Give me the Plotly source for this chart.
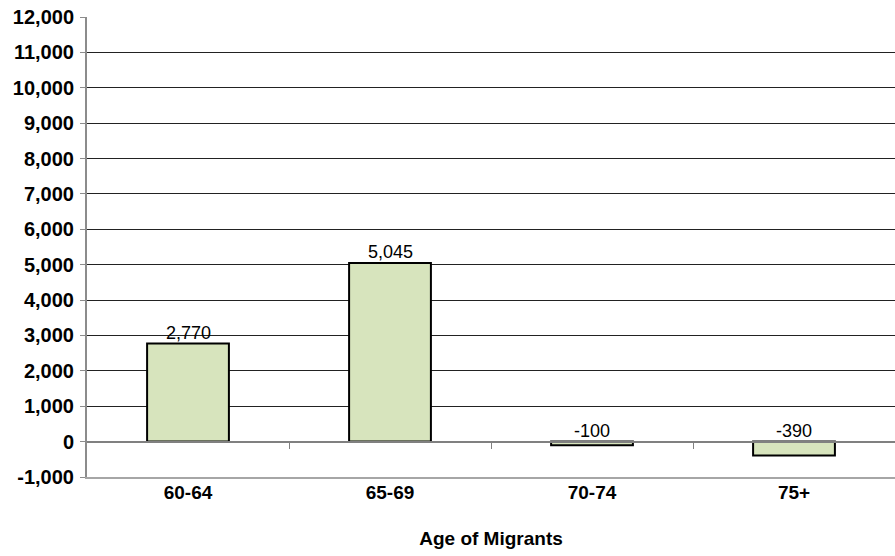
import plotly.graph_objects as go

categories = ["60-64", "65-69", "70-74", "75+"]
values = [2770, 5045, -100, -390]
label_texts = ["2,770", "5,045", "-100", "-390"]
y_ticks = list(range(-1000, 12001, 1000))
y_tick_text = [f"{v:,}" for v in y_ticks]

fig = go.Figure()
fig.add_trace(go.Bar(
    x=categories, y=values,
    marker=dict(color="#d7e4bd", line=dict(color="#000000", width=2)),
    width=0.405,
    hoverinfo="skip",
))

for c, v, t in zip(categories, values, label_texts):
    fig.add_annotation(x=c, y=max(v, 0), text=t, showarrow=False,
                       yanchor="bottom", yshift=-1,
                       font=dict(family="Liberation Sans, Arial", size=18, color="#000"))

y_min, y_max = -1000, 12000
zero_pos = (0 - y_min) / (y_max - y_min)

fig.update_layout(
    width=895, height=556,
    margin=dict(l=87, r=0, t=17, b=79),
    plot_bgcolor="white", paper_bgcolor="white",
    showlegend=False,
    font=dict(family="Liberation Sans, Arial", color="#000"),
    xaxis=dict(
        type="category", showgrid=False, showline=True, linecolor="#a6a6a6", linewidth=2,
        ticks="", tickfont=dict(size=19, weight="bold"),
        ticklabelstandoff=-3,
        title=dict(text="<b>Age of Migrants</b>", font=dict(size=19), standoff=30),
        range=[-0.5, 3.5],
    ),
    xaxis2=dict(
        overlaying="x", anchor="free", position=zero_pos, side="bottom",
        range=[-0.5, 3.5], tickvals=[0.5, 1.5, 2.5], ticks="outside", ticklen=6,
        tickcolor="#808080", showticklabels=False, showline=True, linecolor="#808080",
        linewidth=2, showgrid=False, zeroline=False,
    ),
    yaxis=dict(
        range=[y_min, y_max], tickvals=y_ticks, ticktext=y_tick_text,
        showgrid=True, gridcolor="#222222", gridwidth=1, zeroline=False,
        showline=True, linecolor="#8c8c8c", linewidth=2,
        ticks="outside", ticklen=5, tickcolor="#8c8c8c",
        tickfont=dict(size=20, weight="bold"),
        ticklabelstandoff=2,
    ),
)
fig.add_trace(go.Scatter(x=[0.5], y=[0], xaxis="x2", mode="markers",
                         marker=dict(opacity=0), hoverinfo="skip"))

fig.write_html("out.html", config={"displayModeBar": False},
               post_script="document.body.style.margin='0';")
